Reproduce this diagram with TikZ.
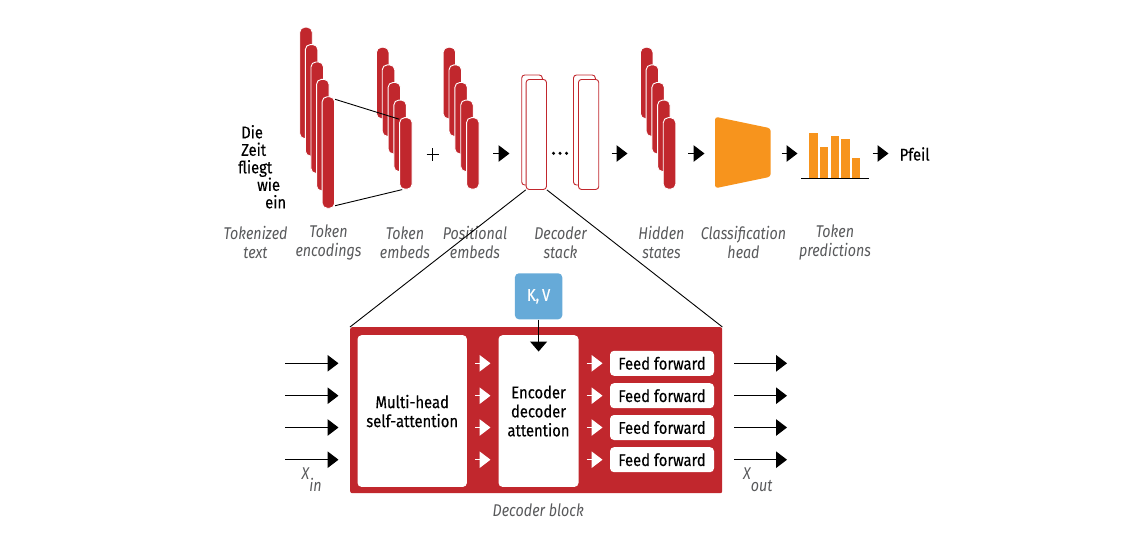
\documentclass[tikz,border=0pt]{standalone}
\usepackage{fontspec}
\setmainfont{Fira Sans}[FakeStretch=0.87, FakeBold=0.35, ItalicFeatures={FakeStretch=0.84, FakeBold=0}]
\usetikzlibrary{arrows.meta,backgrounds}
\definecolor{dred}{RGB}{193,39,45}
\definecolor{orng}{RGB}{247,148,29}
\definecolor{kvblue}{RGB}{102,170,216}
\definecolor{lblgray}{RGB}{88,89,91}
\begin{document}
\begin{tikzpicture}[x=1pt,y=-1pt,
  every node/.style={font=\fontsize{17}{19}\selectfont, inner sep=0pt},
  bar/.style={draw=white, line width=0.9pt, fill=dred, rounded corners=5pt, minimum width=12.5pt, anchor=north west, inner sep=0pt},
  lbl/.style={font=\fontsize{17}{19.5}\selectfont\itshape, text=lblgray, align=center},
  word/.style={anchor=base west},
  blk/.style={-{Triangle[length=11pt,width=16.5pt]}, line width=1.1pt},
  inarr/.style={-{Triangle[length=11pt,width=16.5pt]}, line width=1.1pt},
  wht/.style={draw=white, -{Triangle[length=11pt,width=16.5pt]}, line width=1.1pt},
  wbox/.style={fill=white, rounded corners=4pt, anchor=north west, align=center},
  ffbox/.style={fill=white, rounded corners=4pt, minimum width=104pt, minimum height=25pt},
  dsbox/.style={draw=dred, line width=0.9pt, fill=white, rounded corners=3pt, anchor=north west, minimum width=20.3pt, minimum height=110pt},
  dsback/.style={draw=dred, line width=0.9pt, fill=white, rounded corners=3pt}
]
\useasboundingbox (0,0) rectangle (1126,536);

% tokenized text
\node[word] (w1) at (241,138.3) {Die};
\node[word] (w2) at (241,155.8) {Zeit};
\node[word] (w3) at (238,173.3) {fliegt};
\node[word] (w4) at (257,190.8) {wie};
\node[word] (w5) at (265,208.3) {ein};

% token encodings
\foreach \i in {1,...,5}
  \node[bar, minimum height=111.5pt] (te\i) at ({299.3+(\i-1)*5.6},{26.7+(\i-1)*17.4}) {};
% token embeds
\foreach \i in {1,...,5}
  \node[bar, minimum height=71.5pt] (tb\i) at ({376+(\i-1)*5.8},{46.8+(\i-1)*17.6}) {};
\draw[line width=0.9pt] ([yshift=-3pt]te5.north east) -- ([yshift=-2pt]tb5.north west);
\draw[line width=0.9pt] ([yshift=3pt]te5.south east) -- ([xshift=3pt]tb5.south west);
% plus
\draw[line width=0.8pt] (426.5,154.5) -- (439,154.5) (432.7,148.3) -- (432.7,160.7);
% positional embeds
\foreach \i in {1,...,5}
  \node[bar, minimum height=71.5pt] (pe\i) at ({442.7+(\i-1)*5.85},{46.8+(\i-1)*17.6}) {};

% arrow to decoder stack
\coordinate (a1s) at (493,153.5); \coordinate (a1e) at (509.5,153.5);
\draw[blk] (a1s) -- (a1e);

% decoder stack
\draw[dsback] (521.7,75) rectangle (542.3,185);
\node[dsbox] (ds1) at (525.7,79) {};
\fill (553.5,153.3) circle (1.7) (560,153.3) circle (1.7) (566.5,153.3) circle (1.7);
\draw[dsback] (573.5,75) rectangle (595.3,185);
\node[dsbox] (ds2) at (578,79) {};

\coordinate (a2s) at (611.5,153.5); \coordinate (a2e) at (627.5,153.5);
\draw[blk] (a2s) -- (a2e);

% hidden states
\foreach \i in {1,...,5}
  \node[bar, minimum height=71.5pt] (hs\i) at ({640+(\i-1)*5.7},{46.8+(\i-1)*17.6}) {};

\coordinate (a3s) at (688,153.5); \coordinate (a3e) at (704.5,153.5);
\draw[blk] (a3s) -- (a3e);

% classification head
\path[fill=orng, rounded corners=3pt] (715,116.7) -- (770.7,128.3) -- (770.7,176.7) -- (715,188.3) -- cycle;

\coordinate (a4s) at (781.5,153.5); \coordinate (a4e) at (797.5,153.5);
\draw[blk] (a4s) -- (a4e);

% token predictions
\fill[orng] (809.3,133.3) rectangle (817.6,178.3);
\fill[orng] (820,146.7) rectangle (828.3,178.3);
\fill[orng] (830.7,135.7) rectangle (839,178.3);
\fill[orng] (841.3,138.7) rectangle (849.7,178.3);
\fill[orng] (852,157.7) rectangle (860.3,178.3);
\draw[line width=1.1pt] (801,178.3) -- (868.7,178.3);

\coordinate (a5s) at (872.5,153.5); \coordinate (a5e) at (888.5,153.5);
\draw[blk] (a5s) -- (a5e);
\node[anchor=base west] (pfeil) at (899.5,160.5) {Pfeil};

% labels
\node[lbl] (l1) at (255.5,242.5) {Tokenized\\text};
\node[lbl] (l2) at (328.5,242.5) {Token\\encodings};
\node[lbl] (l3) at (405,242.5) {Token\\embeds};
\node[lbl] (l4) at (475,242.5) {Positional\\embeds};
\node[lbl] (l5) at (560.5,242.5) {Decoder\\stack};
\node[lbl] (l6) at (661.5,242.5) {Hidden\\states};
\node[lbl] (l7) at (743.5,242.5) {Classification\\head};
\node[lbl] (l8) at (835,242.5) {Token\\predictions};

% decoder block
\node[fill=dred, minimum width=372pt, minimum height=166pt, anchor=north west, rounded corners=2pt] (db) at (350,327) {};
\draw[line width=0.9pt] (ds1.south west) -- (db.north west);
\draw[line width=0.9pt] (ds1.south east) -- (db.north east);

\node[wbox, minimum width=109.4pt, minimum height=151.7pt] (mh) at (357.3,335) {Multi-head\\self-attention};
\node[wbox, minimum width=80pt, minimum height=151.7pt] (ed) at (498.3,335) {Encoder\\decoder\\attention};
\node[fill=kvblue, rounded corners=4pt, minimum width=47.3pt, minimum height=46pt, text=white, font=\fontsize{17}{19}\selectfont] (kv) at (538.6,296.3) {K,\,V};
\coordinate (kvend) at (538.6,351.5);
\draw[-{Triangle[length=10pt,width=17pt]}, line width=1.1pt] (kv.south) -- (kvend);

\foreach \y [count=\i] in {363.3,395.7,427.5,459.7} {
  \coordinate (ws\i) at (475,\y); \coordinate (we\i) at (490.5,\y);
  \draw[wht] (ws\i) -- (we\i);
  \coordinate (vs\i) at (586.5,\y); \coordinate (ve\i) at (602.5,\y);
  \draw[wht] (vs\i) -- (ve\i);
  \node[ffbox] (ff\i) at (662,\y) {Feed forward};
  \coordinate (is\i) at (285,\y); \coordinate (ie\i) at (338.5,\y);
  \draw[inarr] (is\i) -- (ie\i);
  \coordinate (os\i) at (734,\y); \coordinate (oe\i) at (787,\y);
  \draw[inarr] (os\i) -- (oe\i);
}

\node[lbl, anchor=base west] (xin) at (301.5,479.3) {X\raisebox{-12pt}{in}};
\node[lbl, anchor=base west] (xout) at (743,479.3) {X\raisebox{-12pt}{out}};
\node[lbl, anchor=base] (dbl) at (538.3,516.7) {Decoder block};
\end{tikzpicture}
\end{document}
